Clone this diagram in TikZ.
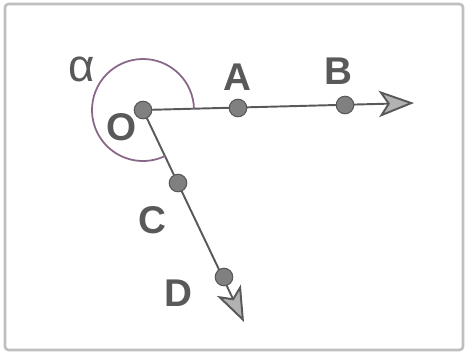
\documentclass[tikz,border=0pt]{standalone}
\usepackage{fontspec}
\setmainfont{Liberation Sans}
\usetikzlibrary{arrows.meta}
\begin{document}
\begin{tikzpicture}[
        x=0.02cm, y=0.02cm,
        dot/.style={circle, draw=black!65, fill=black!50, minimum size=10pt, inner sep=0pt, line width=0.6pt},
        lbl/.style={text=black!65, font=\fontsize{22}{24}\selectfont\bfseries, inner sep=0pt},
        ray/.style={draw=black!65, line width=1.1pt, -{Stealth[length=20pt, width=15pt, inset=5pt, fill=black!30]}},
        anglearc/.style={draw=violet!45!black!60, line width=1pt},
        frame/.style={draw=black!25, line width=1.5pt, rounded corners=2pt}
    ]
    \useasboundingbox (0,0) rectangle (466,353);
    \draw[frame] (5,3) rectangle (463,349);

    % points of the two rays
    \coordinate (O) at (143,243);
    \coordinate (A) at (238,245);
    \coordinate (B) at (345,248);
    \coordinate (Bend) at (414,250);
    \coordinate (C) at (178,170);
    \coordinate (D) at (224,76);
    \coordinate (Dend) at (244,31);

    \draw[ray] (O) -- (Bend);
    \draw[ray] (O) -- (Dend);
    \draw[anglearc] (O) ++(1.2:51) arc[start angle=1.2, end angle=295.6, radius=51];

    \node[dot] (o) at (O) {};
    \node[dot] (a) at (A) {};
    \node[dot] (b) at (B) {};
    \node[dot] (c) at (C) {};
    \node[dot] (d) at (D) {};

    \node[lbl] (lo) at (122,226) {O};
    \node[lbl] (la) at (237,276) {A};
    \node[lbl] (lb) at (338,282) {B};
    \node[lbl] (lc) at (152,133) {C};
    \node[lbl] (ld) at (178,60) {D};
    \node[lbl, font=\fontsize{26}{28}\selectfont] (lalpha) at (82,284) {α};

\end{tikzpicture}
\end{document}
